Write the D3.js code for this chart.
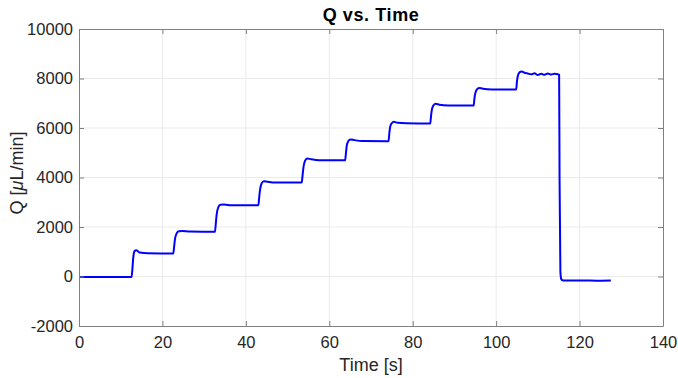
<!DOCTYPE html>
<html>
<head>
<meta charset="utf-8">
<script src="https://cdn.jsdelivr.net/npm/d3@7"></script>
<style>
  body { margin: 0; background: #fff; }
  svg { font-family: "Liberation Sans", Arial, sans-serif; }
</style>
</head>
<body>
<div id="chart"></div>
<script>
// time points [s]
const time = [
    0, 12.6,
    12.8, 13.0, 13.3, 13.7, 14.6, 16.5, 22.6,
    22.8, 23.0, 23.4, 23.9, 24.8, 26.5, 32.6,
    32.8, 33.0, 33.4, 33.9, 34.8, 36.5, 43.0,
    43.2, 43.4, 43.8, 44.3, 45.2, 47.0, 53.4,
    53.6, 53.8, 54.2, 54.7, 55.6, 57.5, 63.8,
    64.0, 64.2, 64.6, 65.1, 66.0, 68.0, 74.2,
    74.4, 74.6, 75.0, 75.5, 76.4, 78.5, 84.2,
    84.4, 84.6, 85.0, 85.5, 86.4, 88.5, 94.6,
    94.8, 95.0, 95.4, 95.9, 96.8, 99.0, 104.8,
    105.0, 105.2, 105.6, 106.1, 106.8, 107.6, 108.4, 109.2, 110.0, 110.8, 111.6, 112.4, 113.2, 114.0, 114.8, 115.1,
    115.2, 115.4, 115.6, 115.9, 116.4, 118, 121, 124, 127.5
];
// flow rate Q [uL/min]
const flow = [
    -20, -20,
    300, 750, 1020, 1060, 970, 935, 925,
    1200, 1500, 1740, 1830, 1840, 1815, 1805,
    2150, 2500, 2800, 2900, 2905, 2880, 2875,
    3200, 3500, 3770, 3850, 3830, 3800, 3795,
    4100, 4400, 4680, 4770, 4740, 4700, 4695,
    5000, 5300, 5480, 5540, 5510, 5470, 5465,
    5800, 6050, 6200, 6250, 6210, 6190, 6180,
    6500, 6750, 6920, 6980, 6940, 6910, 6905,
    7200, 7400, 7560, 7620, 7590, 7560, 7555,
    7900, 8100, 8250, 8280, 8230, 8200, 8170, 8210, 8140, 8190, 8150, 8200, 8160, 8190, 8170, 8150,
    4000, 200, -100, -150, -160, -165, -160, -170, -165
];

const xTicks = [0, 20, 40, 60, 80, 100, 120, 140];
const yTicks = [-2000, 0, 2000, 4000, 6000, 8000, 10000];

const width = 678, height = 378;
const margin = { top: 29, right: 15, bottom: 52, left: 79 };
const plotW = width - margin.left - margin.right;
const plotH = height - margin.top - margin.bottom;

const svg = d3.select('#chart').append('svg')
    .attr('width', width)
    .attr('height', height);

const x = d3.scaleLinear().domain([0, 140]).range([margin.left, margin.left + plotW]);
const y = d3.scaleLinear().domain([-2000, 10000]).range([margin.top + plotH, margin.top]);

// grid
const grid = svg.append('g');
grid.selectAll('line.gx')
    .data(xTicks.slice(1, -1))
    .enter().append('line')
    .attr('x1', d => x(d)).attr('x2', d => x(d))
    .attr('y1', margin.top).attr('y2', margin.top + plotH)
    .attr('stroke', '#ebebeb').attr('stroke-width', 1);
grid.selectAll('line.gy')
    .data(yTicks.slice(1, -1))
    .enter().append('line')
    .attr('x1', margin.left).attr('x2', margin.left + plotW)
    .attr('y1', d => y(d)).attr('y2', d => y(d))
    .attr('stroke', '#ebebeb').attr('stroke-width', 1);

// data line
const pts = time.map((t, i) => [t, flow[i]]);
svg.append('path')
    .datum(pts)
    .attr('fill', 'none')
    .attr('stroke', '#0000ff')
    .attr('stroke-width', 2)
    .attr('stroke-linejoin', 'round')
    .attr('d', d3.line().x(d => x(d[0])).y(d => y(d[1])).curve(d3.curveMonotoneX));

// axes (MATLAB style, ticks inward on all sides)
const axisColor = '#808080';
const tickLen = 5;
const fmt = d => String(d); // plain hyphen, no thousands separator
const styleAxis = g => {
    g.select('.domain').attr('stroke', axisColor);
    g.selectAll('.tick line').attr('stroke', axisColor);
    g.selectAll('.tick text').attr('fill', '#262626').attr('font-size', 16.5);
};

svg.append('g')
    .attr('transform', `translate(0,${margin.top + plotH})`)
    .call(d3.axisBottom(x).tickValues(xTicks).tickFormat(fmt).tickSizeInner(-tickLen).tickSizeOuter(0).tickPadding(10))
    .call(styleAxis);
svg.append('g')
    .attr('transform', `translate(0,${margin.top})`)
    .call(d3.axisTop(x).tickValues(xTicks).tickSizeInner(-tickLen).tickSizeOuter(0).tickFormat(''))
    .call(styleAxis);
svg.append('g')
    .attr('transform', `translate(${margin.left},0)`)
    .call(d3.axisLeft(y).tickValues(yTicks).tickFormat(fmt).tickSizeInner(-tickLen).tickSizeOuter(0).tickPadding(6))
    .call(styleAxis);
svg.append('g')
    .attr('transform', `translate(${margin.left + plotW},0)`)
    .call(d3.axisRight(y).tickValues(yTicks).tickSizeInner(-tickLen).tickSizeOuter(0).tickFormat(''))
    .call(styleAxis);

// title and labels
svg.append('text')
    .attr('x', margin.left + plotW / 2)
    .attr('y', 21)
    .attr('text-anchor', 'middle')
    .attr('font-size', 18)
    .attr('font-weight', 'bold')
    .attr('letter-spacing', 0.6)
    .attr('fill', '#000')
    .text('Q vs. Time');

svg.append('text')
    .attr('x', margin.left + plotW / 2)
    .attr('y', 371)
    .attr('text-anchor', 'middle')
    .attr('font-size', 18)
    .attr('fill', '#262626')
    .text('Time [s]');

const yl = svg.append('text')
    .attr('transform', `translate(23,173) rotate(-90)`)
    .attr('text-anchor', 'middle')
    .attr('font-size', 18)
    .attr('fill', '#262626');
yl.append('tspan').text('Q [');
yl.append('tspan').attr('font-style', 'italic').text('\u03bc');
yl.append('tspan').text('L/min]');
</script>
</body>
</html>
